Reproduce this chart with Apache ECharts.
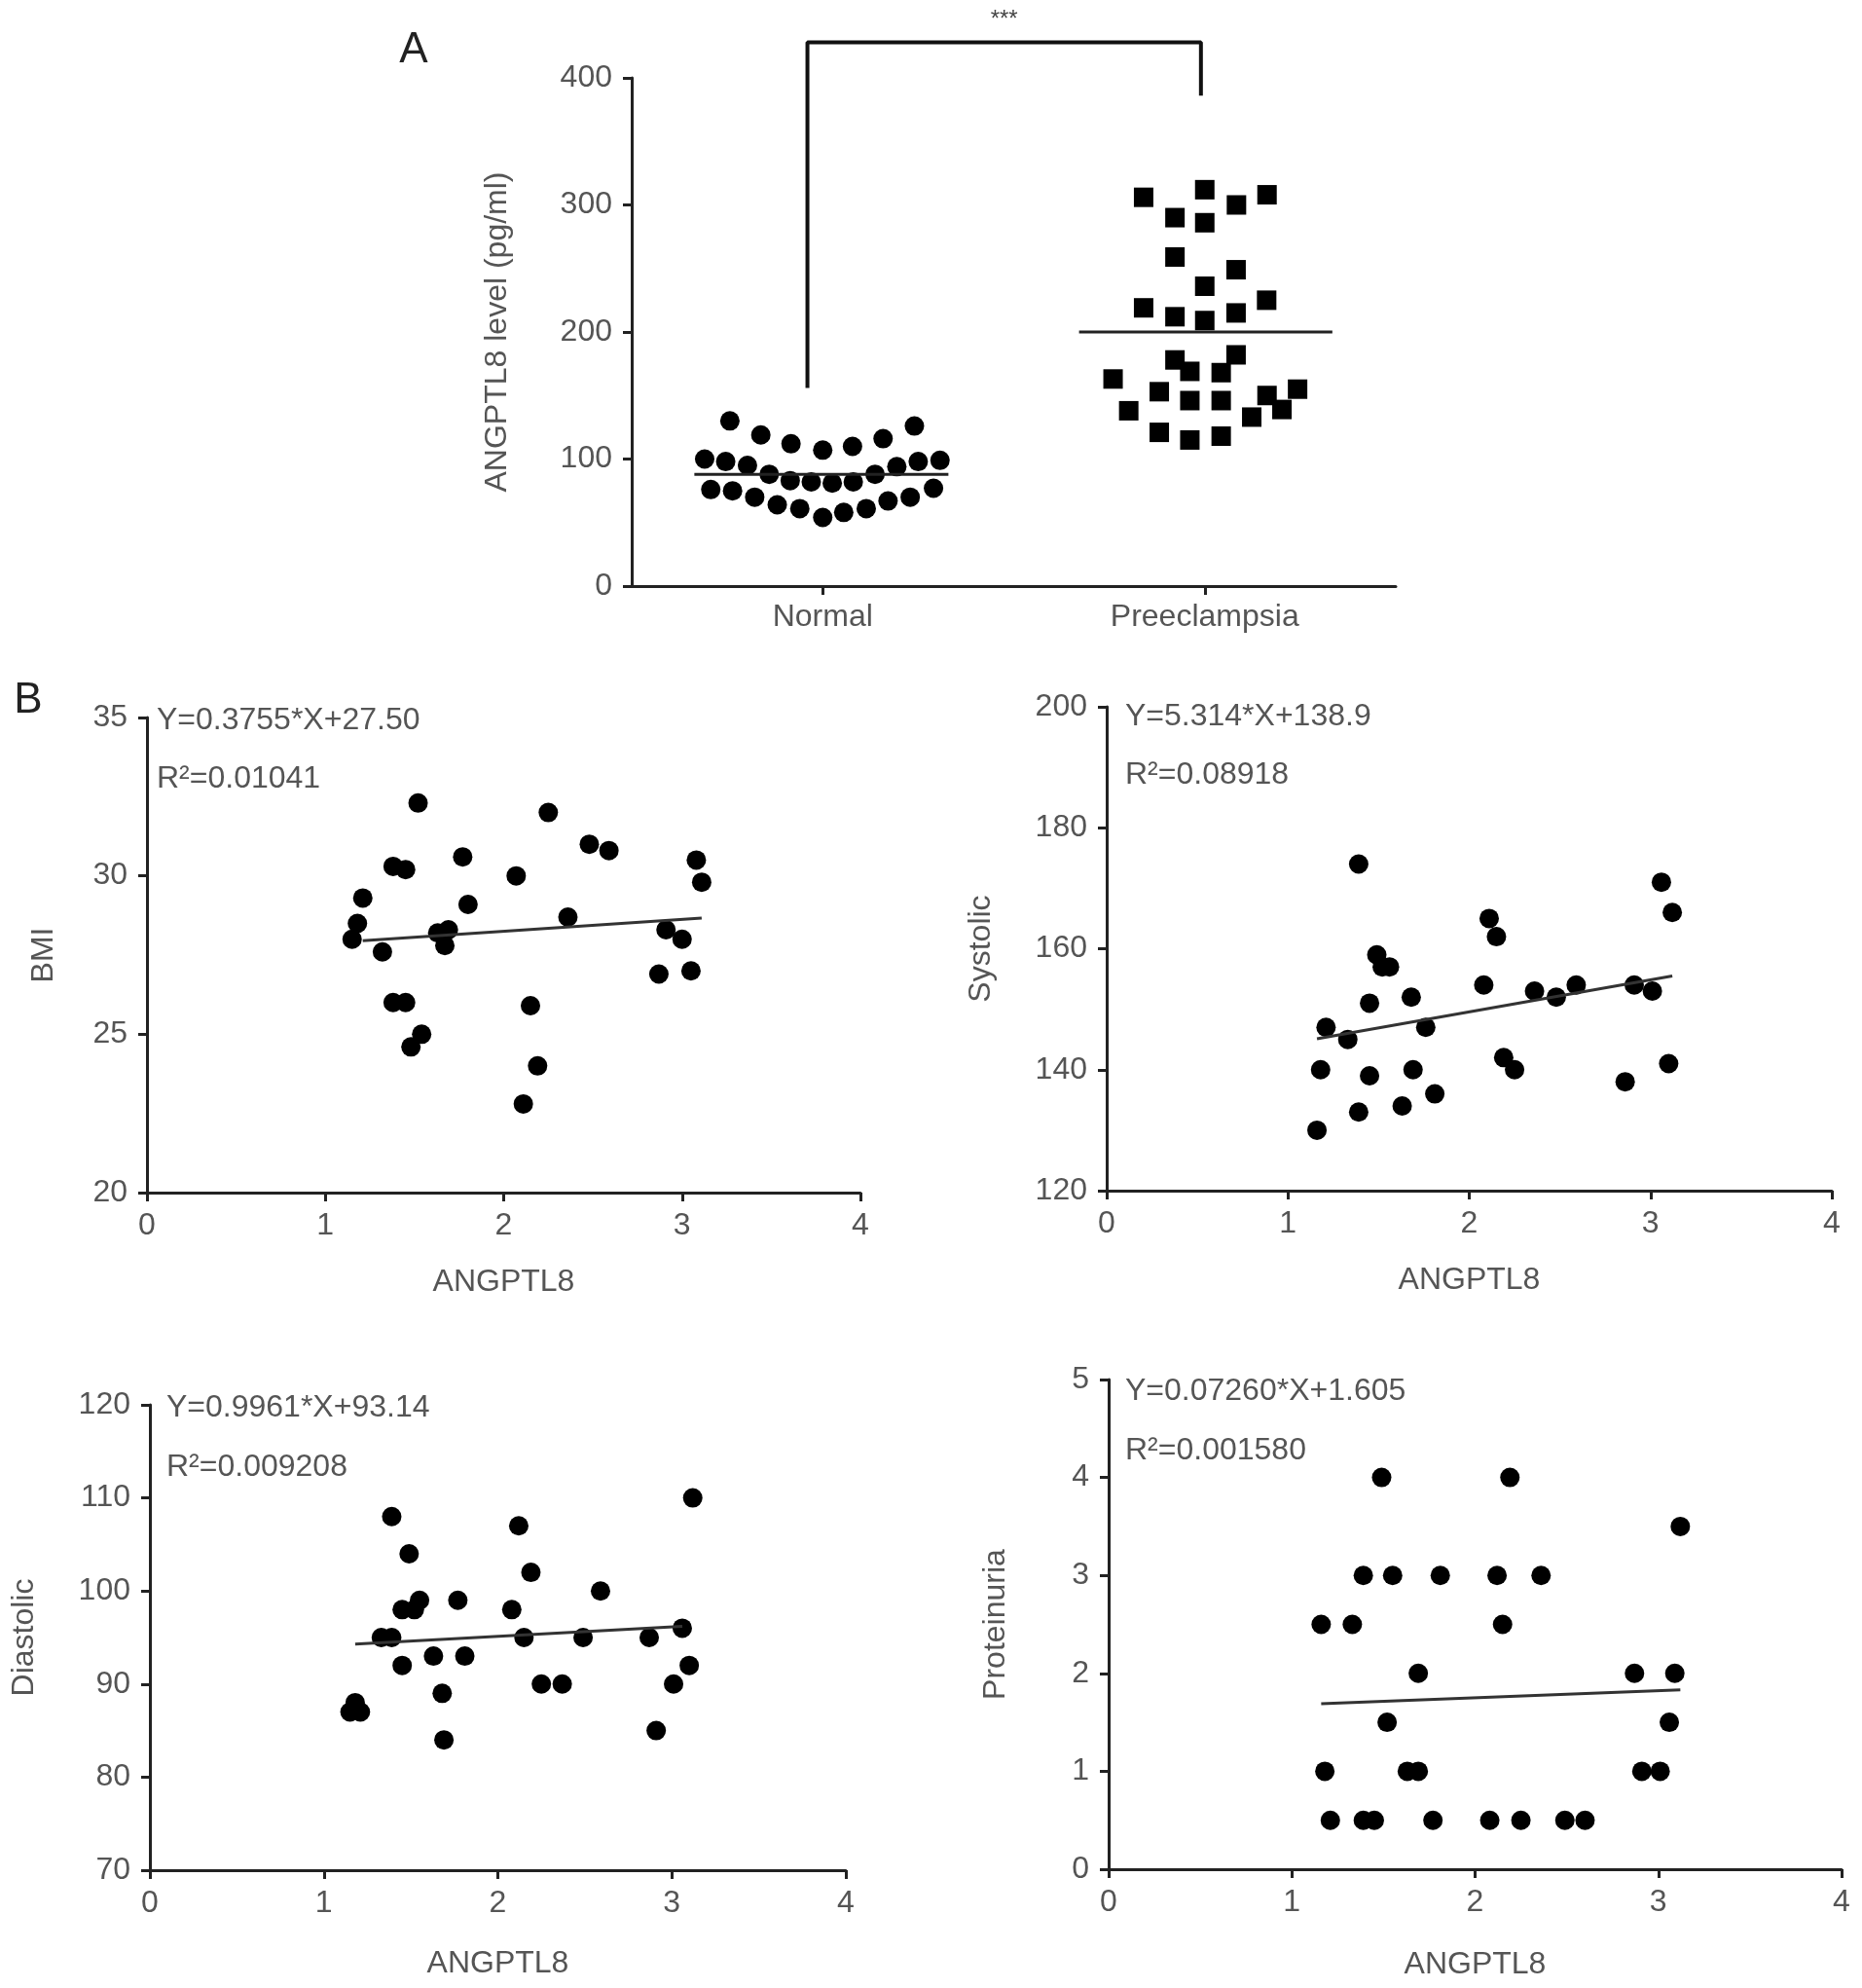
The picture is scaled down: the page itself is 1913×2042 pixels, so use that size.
<!DOCTYPE html>
<html>
<head>
<meta charset="utf-8">
<script src="https://cdn.jsdelivr.net/npm/echarts@6/dist/echarts.min.js"></script>
<style>html,body{margin:0;background:#fff}#main{width:1913px;height:2042px}</style>
</head>
<body>
<div id="main"></div>
<script>
// panel A
var groups = ['Normal', 'Preeclampsia'];
// horizontal jitter (in group widths) and level for each subject
var normalJit = [-0.243,-0.162,-0.083,0,0.078,0.158,0.24,
  -0.309,-0.254,-0.197,-0.14,-0.085,-0.03,0.025,0.08,0.137,0.194,0.25,0.307,
  -0.293,-0.236,-0.178,-0.119,-0.06,0,0.055,0.114,0.171,0.229,0.29];
var normalVal = [130,119,112,107,110,116,126,
  100,98,95,88,83,82,81,82,88,94,98,99,
  76,75,70,64,61,54,58,61,67,70,77];
var preJit = [-0.16,0,0.083,0.163,-0.078,0,-0.078,0.082,0,0.162,-0.16,-0.078,0,0.082,
  -0.078,0.082,-0.039,0.043,-0.24,-0.119,-0.039,0.043,0.163,0.243,-0.199,0.123,0.202,
  -0.119,-0.039,0.043];
var preVal = [306,312,300,308,290,286,259,249,236,225,219,212,209,215,
  178,182,169,168,163,153,146,146,150,155,138,133,139,121,115,118];
var normalMean = 88;
var preMean = 200;
var levelTicks = [0, 400, 100];

// panel B (ANGPTL8 against clinical values)
var angBMI = [1.15,1.18,1.21,1.32,1.38,1.45,1.38,1.45,1.52,1.48,1.54,1.63,1.69,1.67,1.77,1.80,
  2.07,2.15,2.11,2.19,2.25,2.36,2.48,2.59,2.87,2.91,3.00,3.05,3.08,3.11];
var bmi = [28.0,28.5,29.3,27.6,30.3,30.2,26.0,26.0,32.3,24.6,25.0,28.2,28.3,27.8,30.6,29.1,
  30.0,25.9,22.8,24.0,32.0,28.7,31.0,30.8,26.9,28.3,28.0,27.0,30.5,29.8];
var fitBMI = [[1.21, 27.95], [3.11, 28.67]];

var angSys = [1.16,1.18,1.21,1.33,1.39,1.39,1.45,1.45,1.49,1.52,1.56,1.63,1.68,1.69,1.76,1.81,
  2.08,2.11,2.15,2.19,2.25,2.36,2.48,2.59,2.86,2.91,3.01,3.06,3.10,3.12];
var systolic = [130,140,147,145,174,133,151,139,159,157,157,134,152,140,147,136,
  154,165,162,142,140,153,152,154,138,154,153,171,141,166];
var fitSys = [[1.16, 145.1], [3.12, 155.5]];

var angDia = [1.15,1.18,1.21,1.33,1.39,1.39,1.45,1.45,1.49,1.52,1.55,1.63,1.68,1.69,1.77,1.81,
  2.08,2.12,2.15,2.19,2.25,2.37,2.49,2.59,2.87,2.91,3.01,3.06,3.10,3.12];
var diastolic = [87,88,87,95,95,108,92,98,104,98,99,93,89,84,99,93,
  98,107,95,102,90,90,95,100,95,85,90,96,92,110];
var fitDia = [[1.18, 94.3], [3.06, 96.2]];

var angPro = [1.16,1.18,1.21,1.33,1.39,1.39,1.45,1.49,1.52,1.55,1.63,1.69,1.69,1.77,1.81,
  2.08,2.12,2.15,2.19,2.25,2.36,2.49,2.60,2.87,2.91,3.01,3.06,3.09,3.12];
var proteinuria = [2.5,1,0.5,2.5,3,0.5,0.5,4,1.5,3,1,1,2,0.5,3,
  0.5,3,2.5,4,0.5,3,0.5,0.5,2,1,1,1.5,2,3.5];
var fitPro = [[1.16, 1.689], [3.12, 1.832]];

var myChart = echarts.init(document.getElementById('main'));
var FONT = 'Liberation Sans';
var TXT = '#555';
var AX = '#222';

function pairs(xs, ys, shift){
  var out = [];
  for (var i = 0; i < xs.length; i++) out.push([xs[i] + (shift || 0), ys[i]]);
  return out;
}
function axLine(){ return {show: true, onZero: false, lineStyle: {color: AX, width: 3}}; }
function axTick(){ return {show: true, inside: false, length: 9, lineStyle: {color: AX, width: 3}}; }
function axLabel(m){ return {color: TXT, fontSize: 32, fontFamily: FONT, margin: m}; }
function nameStyle(){ return {color: TXT, fontSize: 32, fontFamily: FONT}; }

function valX(grid, name, gap){
  return {type: 'value', gridIndex: grid, min: 0, max: 4, interval: 1,
    name: name, nameLocation: 'middle', nameGap: gap, nameTextStyle: nameStyle(),
    axisLine: axLine(), axisTick: axTick(), axisLabel: axLabel(18), splitLine: {show: false}};
}
function valY(grid, name, min, max, step, gap){
  return {type: 'value', gridIndex: grid, min: min, max: max, interval: step,
    name: name, nameLocation: 'middle', nameGap: gap, nameTextStyle: nameStyle(),
    axisLine: axLine(), axisTick: axTick(), axisLabel: axLabel(20), splitLine: {show: false}};
}
function dots(xi, yi, xs, ys){
  return {type: 'scatter', xAxisIndex: xi, yAxisIndex: yi, symbol: 'circle', symbolSize: 20,
    itemStyle: {color: '#000', opacity: 1}, data: pairs(xs, ys), silent: true, z: 3};
}
function fit(xi, yi, d){
  return {type: 'line', xAxisIndex: xi, yAxisIndex: yi, data: d, symbol: 'none',
    lineStyle: {color: '#333', width: 3}, silent: true, z: 4};
}
function eqText(x, y, s){
  return {type: 'text', x: x, y: y, style: {text: s, fontSize: 32, fontFamily: FONT, fill: TXT,
    align: 'left', verticalAlign: 'middle'}};
}

var option = {
  animation: false,
  backgroundColor: '#fff',
  grid: [
    {left: 649, top: 80, width: 785, height: 522},
    {left: 151, top: 737, width: 733, height: 488},
    {left: 1137, top: 726, width: 745, height: 497},
    {left: 154, top: 1443, width: 715, height: 478},
    {left: 1139, top: 1417, width: 753, height: 503}
  ],
  xAxis: [
    {type: 'category', gridIndex: 0, data: groups, boundaryGap: true,
      axisLine: axLine(), axisTick: {show: true, alignWithLabel: true, length: 9, lineStyle: {color: AX, width: 3}},
      axisLabel: axLabel(16)},
    {type: 'value', gridIndex: 0, min: -0.5, max: 1.5, show: false, axisLine: {onZero: false}},
    valX(1, 'ANGPTL8', 76), valX(2, 'ANGPTL8', 76), valX(3, 'ANGPTL8', 80), valX(4, 'ANGPTL8', 82)
  ],
  yAxis: [
    valY(0, 'ANGPTL8 level (pg/ml)', levelTicks[0], levelTicks[1], levelTicks[2], 122),
    valY(1, 'BMI', 20, 35, 5, 90),
    valY(2, 'Systolic', 120, 200, 20, 113),
    valY(3, 'Diastolic', 70, 120, 10, 113),
    valY(4, 'Proteinuria', 0, 5, 1, 100)
  ],
  graphic: [
    {type: 'text', x: 425, y: 52, style: {text: 'A', fontSize: 44, fontFamily: FONT, fill: '#222', align: 'center', verticalAlign: 'middle'}},
    {type: 'text', x: 29, y: 720, style: {text: 'B', fontSize: 44, fontFamily: FONT, fill: '#222', align: 'center', verticalAlign: 'middle'}},
    eqText(161, 740, 'Y=0.3755*X+27.50'),
    eqText(161, 800, 'R²=0.01041'),
    eqText(1156, 736, 'Y=5.314*X+138.9'),
    eqText(1156, 796, 'R²=0.08918'),
    eqText(171, 1446, 'Y=0.9961*X+93.14'),
    eqText(171, 1507, 'R²=0.009208'),
    eqText(1156, 1429, 'Y=0.07260*X+1.605'),
    eqText(1156, 1490, 'R²=0.001580')
  ],
  series: [
    {type: 'scatter', xAxisIndex: 1, yAxisIndex: 0, symbol: 'circle', symbolSize: 20,
      itemStyle: {color: '#000', opacity: 1}, data: pairs(normalJit, normalVal, 0), z: 3},
    {type: 'scatter', xAxisIndex: 1, yAxisIndex: 0, symbol: 'rect', symbolSize: 20,
      itemStyle: {color: '#000', opacity: 1}, data: pairs(preJit, preVal, 1), z: 3},
    {type: 'line', xAxisIndex: 1, yAxisIndex: 0, symbol: 'none', lineStyle: {color: '#222', width: 3},
      data: [[-0.336, normalMean], [0.329, normalMean]], z: 4},
    {type: 'line', xAxisIndex: 1, yAxisIndex: 0, symbol: 'none', lineStyle: {color: '#222', width: 3},
      data: [[0.671, preMean], [1.334, preMean]], z: 4},
    // significance bracket
    {type: 'line', xAxisIndex: 1, yAxisIndex: 0, symbol: 'none', clip: false, lineStyle: {color: '#111', width: 4},
      data: [[-0.04, 156], [-0.04, 428], [0.99, 428], [0.99, 386]], z: 4},
    {type: 'scatter', xAxisIndex: 1, yAxisIndex: 0, symbolSize: 2, clip: false,
      itemStyle: {color: 'rgba(0,0,0,0)'},
      data: [[0.475, 446]],
      label: {show: true, position: 'inside', formatter: '***', fontSize: 24, color: '#444', fontFamily: FONT, opacity: 1}},
    dots(2, 1, angBMI, bmi), fit(2, 1, fitBMI),
    dots(3, 2, angSys, systolic), fit(3, 2, fitSys),
    dots(4, 3, angDia, diastolic), fit(4, 3, fitDia),
    dots(5, 4, angPro, proteinuria), fit(5, 4, fitPro)
  ]
};
myChart.setOption(option);
</script>
</body>
</html>
